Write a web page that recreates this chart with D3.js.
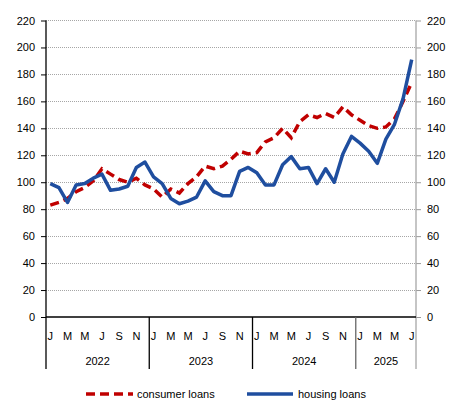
<!DOCTYPE html>
<html>
<head>
<meta charset="utf-8">
<script src="https://cdn.jsdelivr.net/npm/d3@7"></script>
<style>
  body { margin: 0; background: #fff; }
  svg { display: block; font-family: "Liberation Sans", Arial, sans-serif; }
</style>
</head>
<body>
<svg id="chart"></svg>
<script>
// Monthly index values, Jan 2022 .. Jul 2025
const years = ["2022", "2023", "2024", "2025"];
const monthLetters = ["J", "F", "M", "A", "M", "J", "J", "A", "S", "O", "N", "D"];
const yTicks = [0, 20, 40, 60, 80, 100, 120, 140, 160, 180, 200, 220];

const consumerLoans = [
  83, 85, 88, 93, 96, 101, 110, 106, 102, 100, 103, 98,
  95, 89, 95, 92, 99, 104, 112, 110, 112, 117, 123, 121,
  122, 130, 133, 140, 133, 145, 150, 148, 151, 148, 156, 150,
  146, 142, 140, 141, 147, 160, 174
];
const housingLoans = [
  99, 96, 85, 98, 99, 103, 106, 94, 95, 97, 111, 115,
  104, 99, 88, 84, 86, 89, 101, 93, 90, 90, 108, 111,
  107, 98, 98, 113, 119, 110, 111, 99, 110, 100, 121, 134,
  129, 123, 114, 132, 143, 162, 191
];

const width = 456;
const height = 415;
const margin = { top: 20.5, right: 40, bottom: 98, left: 46 };

const svg = d3.select("#chart").attr("width", width).attr("height", height);

const idx = d3.range(consumerLoans.length);

const x = d3.scaleBand()
  .domain(idx)
  .range([margin.left, width - margin.right])
  .padding(0);

const y = d3.scaleLinear()
  .domain([0, 220])
  .range([height - margin.bottom, margin.top]);

const cx = i => x(i) + x.bandwidth() / 2;
const y0 = y(0);

// gridlines
svg.append("g")
  .selectAll("line")
  .data(yTicks.filter(d => d > 0))
  .join("line")
  .attr("x1", margin.left)
  .attr("x2", width - margin.right)
  .attr("y1", d => y(d))
  .attr("y2", d => y(d))
  .style("stroke", "#a6a6a6")
  .style("stroke-width", 1)
  .style("stroke-dasharray", "1,1")
  .style("shape-rendering", "crispEdges");

// left axis
svg.append("g")
  .attr("transform", `translate(${margin.left},0)`)
  .call(d3.axisLeft(y).tickValues(yTicks).tickSize(5).tickPadding(6).tickSizeOuter(0))
  .call(g => g.select(".domain").remove())
  .call(g => g.selectAll(".tick line").style("stroke", "#000"))
  .call(g => g.selectAll(".tick text").style("font-size", "11px").style("fill", "#000"));

// right axis
svg.append("g")
  .attr("transform", `translate(${width - margin.right},0)`)
  .call(d3.axisRight(y).tickValues(yTicks).tickSize(5).tickPadding(6).tickSizeOuter(0))
  .call(g => g.select(".domain").remove())
  .call(g => g.selectAll(".tick line").style("stroke", "#999"))
  .call(g => g.selectAll(".tick text").style("font-size", "11px").style("fill", "#000"));

// vertical axis lines (extend down through the category area)
const catBottom = 369;
svg.append("line")
  .attr("x1", margin.left).attr("x2", margin.left)
  .attr("y1", margin.top).attr("y2", catBottom)
  .style("stroke", "#000").style("stroke-width", 1.3);
svg.append("line")
  .attr("x1", width - margin.right).attr("x2", width - margin.right)
  .attr("y1", margin.top).attr("y2", catBottom)
  .style("stroke", "#a6a6a6").style("stroke-width", 1.3);

// month letters
svg.append("g")
  .attr("transform", `translate(0,${y0})`)
  .call(d3.axisBottom(x)
    .tickValues(idx.filter(i => i % 2 === 0))
    .tickSize(0)
    .tickPadding(15)
    .tickFormat(i => monthLetters[i % 12]))
  .call(g => g.select(".domain").remove())
  .call(g => g.selectAll(".tick text").style("font-size", "11px").style("fill", "#000"));

// x axis baseline
svg.append("line")
  .attr("x1", margin.left).attr("x2", width - margin.right)
  .attr("y1", y0).attr("y2", y0)
  .style("stroke", "#000").style("stroke-width", 1.3);

// year separators and labels
const yearStarts = years.map((yr, k) => k * 12);
svg.append("g")
  .selectAll("line")
  .data(yearStarts.slice(1))
  .join("line")
  .attr("x1", d => x(d)).attr("x2", d => x(d))
  .attr("y1", y0).attr("y2", catBottom)
  .style("stroke", (d, k) => k === 2 ? "#666" : "#000")
  .style("stroke-width", 1.3);

svg.append("g")
  .selectAll("text")
  .data(years)
  .join("text")
  .attr("x", (d, k) => {
    const a = x(yearStarts[k]);
    const last = Math.min(yearStarts[k] + 11, idx.length - 1);
    const b = x(last) + x.bandwidth();
    return (a + b) / 2;
  })
  .attr("y", 365)
  .attr("text-anchor", "middle")
  .style("font-size", "11px")
  .style("fill", "#000")
  .text(d => d);

// lines
const line = d3.line()
  .x((d, i) => cx(i))
  .y(d => y(d));

svg.append("path")
  .datum(consumerLoans)
  .attr("d", line)
  .style("fill", "none")
  .style("stroke", "#c00000")
  .style("stroke-width", 3.5)
  .style("stroke-dasharray", "9,5");

svg.append("path")
  .datum(housingLoans)
  .attr("d", line)
  .style("fill", "none")
  .style("stroke", "#1f4e9f")
  .style("stroke-width", 3.5)
  .style("stroke-linejoin", "round");

// legend
const legend = svg.append("g").attr("transform", "translate(0,394)");
legend.append("line")
  .attr("x1", 86).attr("x2", 133).attr("y1", 0).attr("y2", 0)
  .style("stroke", "#c00000").style("stroke-width", 3.5)
  .style("stroke-dasharray", "9,5");
legend.append("text")
  .attr("x", 137).attr("y", 4)
  .style("font-size", "11px").style("fill", "#000")
  .text("consumer loans");
legend.append("line")
  .attr("x1", 247).attr("x2", 293).attr("y1", 0).attr("y2", 0)
  .style("stroke", "#1f4e9f").style("stroke-width", 3.5);
legend.append("text")
  .attr("x", 298).attr("y", 4)
  .style("font-size", "11px").style("fill", "#000")
  .text("housing loans");
</script>
</body>
</html>
